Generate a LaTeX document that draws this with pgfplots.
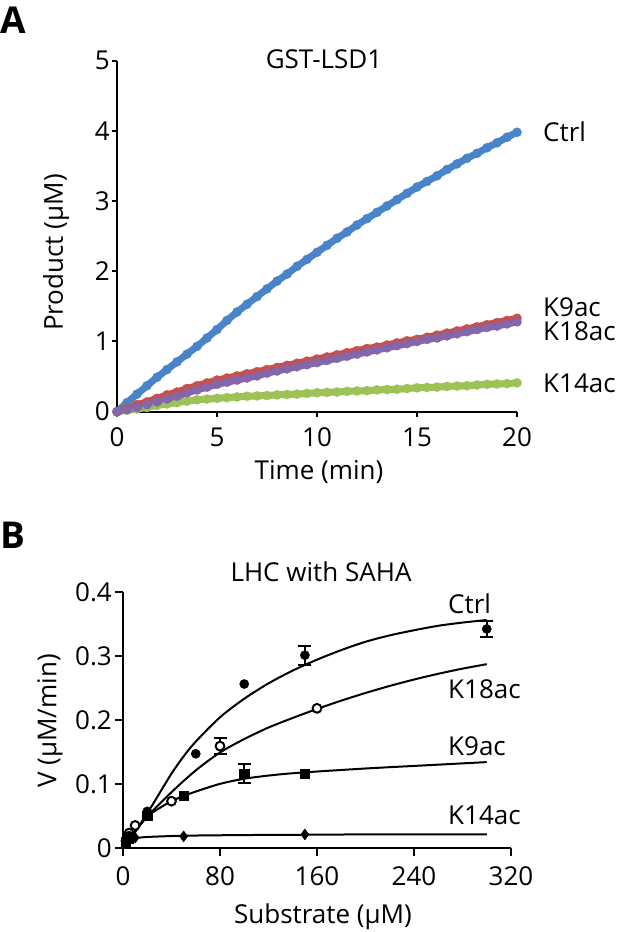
\documentclass[border=0pt]{standalone}
\usepackage{fontspec}
\setmainfont{Open Sans}
\usepackage{pgfplots}
\usepackage{pgfplotstable}
\pgfplotsset{compat=1.18}
\definecolor{cblue}{HTML}{4A84C8}
\definecolor{cred}{HTML}{C9504A}
\definecolor{cpurple}{HTML}{8466AA}
\definecolor{cgreen}{HTML}{9DC356}
\newcommand{\fs}{\fontsize{26}{30}\selectfont}

\pgfplotstableread{
t ctrl k9 k18 k14
0 0 0 0 0
0.5 0.13 0.05 0.03 0.02
1 0.25 0.10 0.06 0.04
1.5 0.37 0.14 0.10 0.06
2 0.49 0.19 0.14 0.09
2.5 0.60 0.24 0.18 0.11
3 0.71 0.28 0.22 0.13
3.5 0.82 0.33 0.27 0.15
4 0.93 0.37 0.31 0.17
4.5 1.05 0.41 0.35 0.18
5 1.17 0.45 0.39 0.19
5.5 1.30 0.48 0.42 0.20
6 1.42 0.51 0.45 0.21
6.5 1.53 0.54 0.48 0.22
7 1.64 0.57 0.51 0.225
7.5 1.75 0.60 0.55 0.23
8 1.86 0.63 0.58 0.24
8.5 1.96 0.66 0.61 0.245
9 2.07 0.69 0.64 0.25
9.5 2.17 0.72 0.67 0.26
10 2.27 0.75 0.70 0.27
10.5 2.37 0.78 0.73 0.275
11 2.47 0.81 0.76 0.28
11.5 2.56 0.84 0.79 0.29
12 2.66 0.87 0.82 0.295
12.5 2.75 0.90 0.85 0.30
13 2.84 0.92 0.88 0.31
13.5 2.93 0.95 0.91 0.315
14 3.02 0.98 0.94 0.32
14.5 3.11 1.01 0.97 0.33
15 3.20 1.03 1.00 0.34
15.5 3.28 1.06 1.03 0.345
16 3.36 1.09 1.05 0.35
16.5 3.45 1.12 1.08 0.36
17 3.53 1.15 1.11 0.365
17.5 3.61 1.18 1.14 0.37
18 3.68 1.21 1.17 0.38
18.5 3.76 1.24 1.20 0.39
19 3.83 1.27 1.22 0.395
19.5 3.91 1.30 1.25 0.40
20 3.98 1.33 1.28 0.41
}\dataA

\pgfplotsset{
  myaxis/.style={
    scale only axis, enlargelimits=false, clip=false,
    axis lines=left, axis line style={-, line width=2pt, black},
    tick align=outside, tick style={line width=2pt, black},
    minor tick num=0,
    tick label style={font=\fs},
    /pgf/number format/assume math mode=true,
  },
  kin/.style={line width=7pt, mark=*, mark size=4.6pt},
}

\begin{document}
\begin{tikzpicture}[x=1pt,y=1pt]
\useasboundingbox (0,0) rectangle (617,932);

% ---------------- Panel A ----------------
\begin{axis}[myaxis,
  at={(117pt,520.3pt)}, anchor=south west,
  width=400pt, height=351pt,
  xmin=0, xmax=20, ymin=0, ymax=5,
  xtick={0,5,10,15,20}, ytick={0,1,2,3,4,5},
  major tick length=5pt,
  xticklabel style={anchor=north, inner sep=0pt, yshift=-11pt},
  yticklabel style={anchor=east, inner sep=0pt, xshift=-2pt},
]
\addplot[kin, color=cblue, mark options={fill=cblue, draw=cblue, line width=0.3pt}] table[x=t, y=ctrl] \dataA;
\addplot[kin, color=cgreen, mark options={fill=cgreen, draw=cgreen, line width=0.3pt}] table[x=t, y=k14] \dataA;
\addplot[kin, color=cred, mark options={fill=cred, draw=cred, line width=0.3pt}] table[x=t, y=k9] \dataA;
\addplot[kin, color=cpurple, mark options={fill=cpurple, draw=cpurple, line width=0.3pt}] table[x=t, y=k18] \dataA;
\end{axis}

% ---------------- Panel B ----------------
\begin{axis}[myaxis,
  at={(123pt,83.5pt)}, anchor=south west,
  width=388pt, height=256pt,
  xmin=0, xmax=320, ymin=0, ymax=0.4,
  xtick={0,80,160,240,320}, ytick={0,0.1,0.2,0.3,0.4},
  yticklabels={0,0.1,0.2,0.3,0.4},
  major tick length=8pt,
  xticklabel style={anchor=north, inner sep=0pt, yshift=-10pt},
  yticklabel style={anchor=east, inner sep=0pt, xshift=-3pt},
]
% fitted curves
\addplot[black, line width=2pt, smooth, tension=0.5, mark=none] coordinates {
(0,0) (5,0.012) (10,0.026) (20,0.055) (30,0.086) (40,0.117) (50,0.144) (60,0.167)
(80,0.205) (100,0.234) (120,0.258) (140,0.278) (160,0.295) (180,0.310) (200,0.323)
(220,0.333) (240,0.341) (260,0.348) (280,0.353) (300,0.357)};
\addplot[black, line width=2pt, smooth, tension=0.5, mark=none] coordinates {
(0,0) (5,0.013) (10,0.026) (20,0.050) (40,0.088) (60,0.122) (80,0.150) (100,0.171)
(120,0.189) (140,0.204) (160,0.218) (180,0.231) (200,0.243) (220,0.254) (240,0.264)
(260,0.273) (280,0.281) (300,0.288)};
\addplot[black, line width=2pt, smooth, tension=0.5, mark=none] coordinates {
(0,0) (5,0.014) (10,0.027) (20,0.050) (30,0.063) (40,0.074) (50,0.082) (60,0.089)
(80,0.101) (100,0.109) (125,0.115) (150,0.119) (200,0.125) (250,0.130) (300,0.135)};
\addplot[black, line width=2pt, smooth, tension=0.4, mark=none] coordinates {
(0,0.004) (2,0.009) (5,0.013) (10,0.016) (20,0.018) (50,0.020) (100,0.021) (150,0.0215)
(200,0.022) (300,0.022)};
% K18ac open circles
\addplot[only marks, mark=*, mark size=4.4pt, mark options={fill=white, draw=black, line width=2pt}] coordinates {
(2.5,0.012) (5,0.024) (10,0.036) (40,0.074) (160,0.219)};
\addplot[only marks, mark=*, mark size=4.4pt, mark options={fill=white, draw=black, line width=2pt},
  error bars/.cd, y dir=both, y explicit,
  error bar style={line width=2pt, black},
  error mark options={rotate=90, mark size=6.5pt, line width=2pt, black}]
  coordinates {(80,0.160) +- (0,0.012)};
% K14ac diamonds
\addplot[only marks, mark=diamond*, mark size=5.5pt, black] coordinates {
(2.5,0.010) (5,0.014) (10,0.017) (50,0.019) (150,0.022)};
% K9ac squares
\addplot[only marks, mark=square*, mark size=4.6pt, black] coordinates {
(2.5,0.010) (5,0.016) (20,0.051) (50,0.083) (150,0.117)};
\addplot[only marks, mark=square*, mark size=4.6pt, black,
  error bars/.cd, y dir=both, y explicit,
  error bar style={line width=2pt, black},
  error mark options={rotate=90, mark size=6.5pt, line width=2pt, black}]
  coordinates {(100,0.117) +- (0,0.015)};
% Ctrl filled circles
\addplot[only marks, mark=*, mark size=4.6pt, black] coordinates {
(2.5,0.012) (5,0.020) (20,0.058) (60,0.148) (100,0.257)};
\addplot[only marks, mark=*, mark size=4.6pt, black,
  error bars/.cd, y dir=both, y explicit,
  error bar style={line width=2pt, black},
  error mark options={rotate=90, mark size=6.5pt, line width=2pt, black}]
  coordinates {(150,0.302) +- (0,0.015) (300,0.343) +- (0,0.013)};
\end{axis}

% ---------------- Texts ----------------
\node[anchor=base west, inner sep=0pt, font=\fontsize{37}{40}\selectfont\bfseries] at (0,898.7) {A};
\node[anchor=base west, inner sep=0pt, font=\fontsize{37}{40}\selectfont\bfseries] at (0,383.7) {B};

\node[anchor=base, inner sep=0pt, font=\fs] at (324,863.7) {GST-LSD1};
\node[anchor=base, inner sep=0pt, font=\fs] at (319,452) {Time (min)};
\node[rotate=90, inner sep=0pt, font=\fs] at (56,679.5) {Product (µM)};
\node[anchor=base west, inner sep=0pt, font=\fs] at (543,790.3) {Ctrl};
\node[anchor=base west, inner sep=0pt, font=\fs] at (543,615.3) {K9ac};
\node[anchor=base west, inner sep=0pt, font=\fs] at (543,591.3) {K18ac};
\node[anchor=base west, inner sep=0pt, font=\fs] at (543,539.3) {K14ac};

\node[anchor=base, inner sep=0pt, font=\fs] at (321,350.3) {LHC with SAHA};
\node[anchor=base, inner sep=0pt, font=\fs] at (323,8.5) {Substrate (µM)};
\node[rotate=90, inner sep=0pt, font=\fs] at (50,211) {V (µM/min)};
\node[anchor=base west, inner sep=0pt, font=\fs] at (448,318.7) {Ctrl};
\node[anchor=base west, inner sep=0pt, font=\fs] at (448,233) {K18ac};
\node[anchor=base west, inner sep=0pt, font=\fs] at (448,176.3) {K9ac};
\node[anchor=base west, inner sep=0pt, font=\fs] at (448,107) {K14ac};
\end{tikzpicture}
\end{document}
